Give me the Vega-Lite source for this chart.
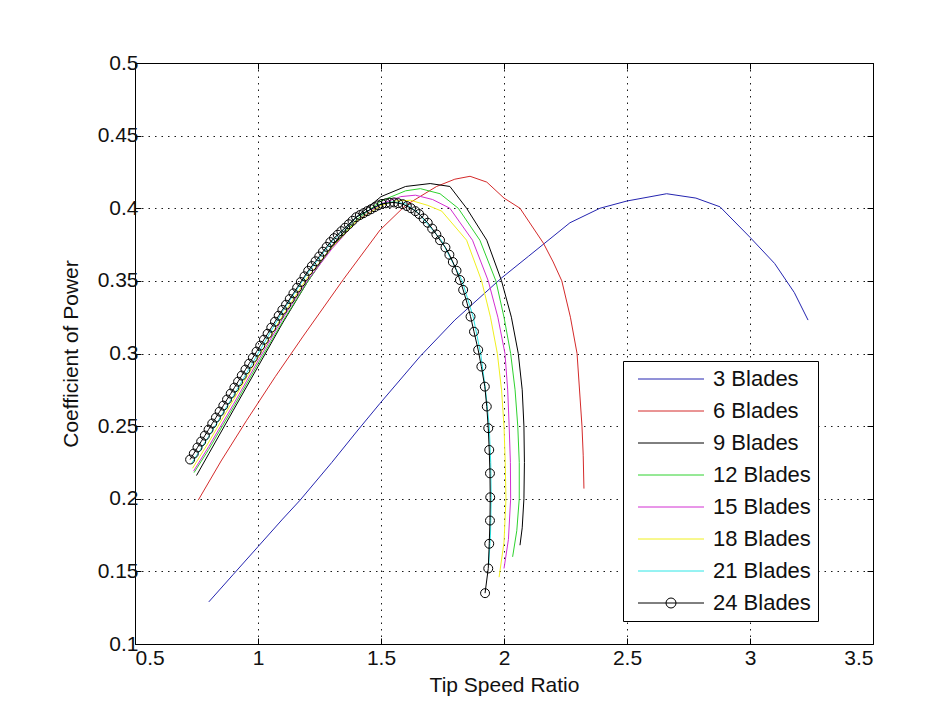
{
  "$schema": "https://vega.github.io/schema/vega-lite/v6.json",
  "width": 738,
  "height": 581,
  "autosize": {"type": "none"},
  "padding": {"left": 135, "top": 63, "right": 78, "bottom": 73},
  "background": "white",
  "config": {
    "view": {"stroke": "black", "strokeWidth": 1},
    "font": "Liberation Sans",
    "axis": {
      "labelFont": "Liberation Sans", "titleFont": "Liberation Sans",
      "labelFontSize": 21, "titleFontSize": 21, "titleFontWeight": "normal",
      "labelColor": "#111", "titleColor": "#111",
      "gridColor": "black", "gridDash": [1.5, 5], "gridWidth": 1, "gridOpacity": 0.9,
      "domain": false, "tickColor": "black", "tickSize": -6, "tickWidth": 1
    }
  },
  "resolve": {"axis": {"x": "independent", "y": "independent"}},
  "data": {"values": [
    {"s":"3 Blades","i":0,"x":0.80,"y":0.129},{"s":"3 Blades","i":1,"x":0.90,"y":0.148},{"s":"3 Blades","i":2,"x":1.00,"y":0.167},{"s":"3 Blades","i":3,"x":1.10,"y":0.186},{"s":"3 Blades","i":4,"x":1.171,"y":0.199},{"s":"3 Blades","i":5,"x":1.30,"y":0.225},{"s":"3 Blades","i":6,"x":1.40,"y":0.246},{"s":"3 Blades","i":7,"x":1.496,"y":0.2657},{"s":"3 Blades","i":8,"x":1.659,"y":0.298},{"s":"3 Blades","i":9,"x":1.80,"y":0.323},{"s":"3 Blades","i":10,"x":1.99,"y":0.352},{"s":"3 Blades","i":11,"x":2.10,"y":0.367},{"s":"3 Blades","i":12,"x":2.268,"y":0.390},{"s":"3 Blades","i":13,"x":2.39,"y":0.400},{"s":"3 Blades","i":14,"x":2.50,"y":0.405},{"s":"3 Blades","i":15,"x":2.661,"y":0.410},{"s":"3 Blades","i":16,"x":2.78,"y":0.407},{"s":"3 Blades","i":17,"x":2.878,"y":0.401},{"s":"3 Blades","i":18,"x":3.0,"y":0.38},{"s":"3 Blades","i":19,"x":3.1,"y":0.362},{"s":"3 Blades","i":20,"x":3.18,"y":0.342},{"s":"3 Blades","i":21,"x":3.236,"y":0.323},
    {"s":"6 Blades","i":0,"x":0.757,"y":0.199},{"s":"6 Blades","i":1,"x":0.85,"y":0.226},{"s":"6 Blades","i":2,"x":0.954,"y":0.254},{"s":"6 Blades","i":3,"x":1.07,"y":0.284},{"s":"6 Blades","i":4,"x":1.184,"y":0.312},{"s":"6 Blades","i":5,"x":1.347,"y":0.351},{"s":"6 Blades","i":6,"x":1.496,"y":0.385},{"s":"6 Blades","i":7,"x":1.6,"y":0.402},{"s":"6 Blades","i":8,"x":1.726,"y":0.415},{"s":"6 Blades","i":9,"x":1.80,"y":0.420},{"s":"6 Blades","i":10,"x":1.862,"y":0.422},{"s":"6 Blades","i":11,"x":1.93,"y":0.418},{"s":"6 Blades","i":12,"x":2.0,"y":0.407},{"s":"6 Blades","i":13,"x":2.065,"y":0.40},{"s":"6 Blades","i":14,"x":2.16,"y":0.376},{"s":"6 Blades","i":15,"x":2.2,"y":0.363},{"s":"6 Blades","i":16,"x":2.235,"y":0.35},{"s":"6 Blades","i":17,"x":2.27,"y":0.325},{"s":"6 Blades","i":18,"x":2.297,"y":0.30},{"s":"6 Blades","i":19,"x":2.317,"y":0.25},{"s":"6 Blades","i":20,"x":2.322,"y":0.23},{"s":"6 Blades","i":21,"x":2.325,"y":0.207},
    {"s":"9 Blades","i":0,"x":0.75,"y":0.216},{"s":"9 Blades","i":1,"x":0.8,"y":0.231},{"s":"9 Blades","i":2,"x":0.9,"y":0.261},{"s":"9 Blades","i":3,"x":1.0,"y":0.291},{"s":"9 Blades","i":4,"x":1.1,"y":0.321},{"s":"9 Blades","i":5,"x":1.2,"y":0.349},{"s":"9 Blades","i":6,"x":1.3,"y":0.374},{"s":"9 Blades","i":7,"x":1.4,"y":0.394},{"s":"9 Blades","i":8,"x":1.5,"y":0.408},{"s":"9 Blades","i":9,"x":1.6,"y":0.415},{"s":"9 Blades","i":10,"x":1.7,"y":0.417},{"s":"9 Blades","i":11,"x":1.78,"y":0.415},{"s":"9 Blades","i":12,"x":1.848,"y":0.40},{"s":"9 Blades","i":13,"x":1.93,"y":0.378},{"s":"9 Blades","i":14,"x":1.99,"y":0.35},{"s":"9 Blades","i":15,"x":2.03,"y":0.325},{"s":"9 Blades","i":16,"x":2.058,"y":0.30},{"s":"9 Blades","i":17,"x":2.074,"y":0.275},{"s":"9 Blades","i":18,"x":2.081,"y":0.25},{"s":"9 Blades","i":19,"x":2.083,"y":0.225},{"s":"9 Blades","i":20,"x":2.081,"y":0.20},{"s":"9 Blades","i":21,"x":2.074,"y":0.18},{"s":"9 Blades","i":22,"x":2.065,"y":0.168},
    {"s":"12 Blades","i":0,"x":0.74,"y":0.218},{"s":"12 Blades","i":1,"x":0.8,"y":0.234},{"s":"12 Blades","i":2,"x":0.9,"y":0.263},{"s":"12 Blades","i":3,"x":1.0,"y":0.293},{"s":"12 Blades","i":4,"x":1.1,"y":0.322},{"s":"12 Blades","i":5,"x":1.2,"y":0.349},{"s":"12 Blades","i":6,"x":1.3,"y":0.373},{"s":"12 Blades","i":7,"x":1.4,"y":0.392},{"s":"12 Blades","i":8,"x":1.5,"y":0.405},{"s":"12 Blades","i":9,"x":1.6,"y":0.412},{"s":"12 Blades","i":10,"x":1.66,"y":0.4135},{"s":"12 Blades","i":11,"x":1.74,"y":0.41},{"s":"12 Blades","i":12,"x":1.814,"y":0.40},{"s":"12 Blades","i":13,"x":1.902,"y":0.378},{"s":"12 Blades","i":14,"x":1.967,"y":0.35},{"s":"12 Blades","i":15,"x":2.0,"y":0.325},{"s":"12 Blades","i":16,"x":2.027,"y":0.30},{"s":"12 Blades","i":17,"x":2.045,"y":0.275},{"s":"12 Blades","i":18,"x":2.056,"y":0.25},{"s":"12 Blades","i":19,"x":2.062,"y":0.225},{"s":"12 Blades","i":20,"x":2.062,"y":0.20},{"s":"12 Blades","i":21,"x":2.052,"y":0.178},{"s":"12 Blades","i":22,"x":2.035,"y":0.16},
    {"s":"15 Blades","i":0,"x":0.738,"y":0.219},{"s":"15 Blades","i":1,"x":0.8,"y":0.236},{"s":"15 Blades","i":2,"x":0.9,"y":0.265},{"s":"15 Blades","i":3,"x":1.0,"y":0.295},{"s":"15 Blades","i":4,"x":1.1,"y":0.324},{"s":"15 Blades","i":5,"x":1.2,"y":0.35},{"s":"15 Blades","i":6,"x":1.3,"y":0.372},{"s":"15 Blades","i":7,"x":1.4,"y":0.391},{"s":"15 Blades","i":8,"x":1.5,"y":0.403},{"s":"15 Blades","i":9,"x":1.58,"y":0.408},{"s":"15 Blades","i":10,"x":1.64,"y":0.409},{"s":"15 Blades","i":11,"x":1.71,"y":0.406},{"s":"15 Blades","i":12,"x":1.78,"y":0.40},{"s":"15 Blades","i":13,"x":1.872,"y":0.378},{"s":"15 Blades","i":14,"x":1.936,"y":0.35},{"s":"15 Blades","i":15,"x":1.975,"y":0.325},{"s":"15 Blades","i":16,"x":2.004,"y":0.30},{"s":"15 Blades","i":17,"x":2.015,"y":0.275},{"s":"15 Blades","i":18,"x":2.021,"y":0.25},{"s":"15 Blades","i":19,"x":2.026,"y":0.225},{"s":"15 Blades","i":20,"x":2.027,"y":0.20},{"s":"15 Blades","i":21,"x":2.018,"y":0.172},{"s":"15 Blades","i":22,"x":2.0,"y":0.152},
    {"s":"18 Blades","i":0,"x":0.734,"y":0.221},{"s":"18 Blades","i":1,"x":0.8,"y":0.239},{"s":"18 Blades","i":2,"x":0.9,"y":0.268},{"s":"18 Blades","i":3,"x":1.0,"y":0.297},{"s":"18 Blades","i":4,"x":1.1,"y":0.326},{"s":"18 Blades","i":5,"x":1.2,"y":0.352},{"s":"18 Blades","i":6,"x":1.3,"y":0.373},{"s":"18 Blades","i":7,"x":1.4,"y":0.391},{"s":"18 Blades","i":8,"x":1.5,"y":0.402},{"s":"18 Blades","i":9,"x":1.56,"y":0.405},{"s":"18 Blades","i":10,"x":1.62,"y":0.4055},{"s":"18 Blades","i":11,"x":1.69,"y":0.402},{"s":"18 Blades","i":12,"x":1.747,"y":0.398},{"s":"18 Blades","i":13,"x":1.848,"y":0.378},{"s":"18 Blades","i":14,"x":1.909,"y":0.35},{"s":"18 Blades","i":15,"x":1.945,"y":0.325},{"s":"18 Blades","i":16,"x":1.973,"y":0.30},{"s":"18 Blades","i":17,"x":1.99,"y":0.275},{"s":"18 Blades","i":18,"x":2.0,"y":0.25},{"s":"18 Blades","i":19,"x":2.005,"y":0.225},{"s":"18 Blades","i":20,"x":2.008,"y":0.20},{"s":"18 Blades","i":21,"x":2.0,"y":0.17},{"s":"18 Blades","i":22,"x":1.98,"y":0.146},
    {"s":"21 Blades","i":0,"x":0.729,"y":0.224},{"s":"21 Blades","i":1,"x":0.8,"y":0.243},{"s":"21 Blades","i":2,"x":0.9,"y":0.271},{"s":"21 Blades","i":3,"x":1.0,"y":0.30},{"s":"21 Blades","i":4,"x":1.1,"y":0.329},{"s":"21 Blades","i":5,"x":1.2,"y":0.355},{"s":"21 Blades","i":6,"x":1.3,"y":0.377},{"s":"21 Blades","i":7,"x":1.4,"y":0.394},{"s":"21 Blades","i":8,"x":1.5,"y":0.403},{"s":"21 Blades","i":9,"x":1.55,"y":0.4045},{"s":"21 Blades","i":10,"x":1.6,"y":0.403},{"s":"21 Blades","i":11,"x":1.65,"y":0.397},{"s":"21 Blades","i":12,"x":1.745,"y":0.378},{"s":"21 Blades","i":13,"x":1.83,"y":0.35},{"s":"21 Blades","i":14,"x":1.875,"y":0.325},{"s":"21 Blades","i":15,"x":1.905,"y":0.30},{"s":"21 Blades","i":16,"x":1.925,"y":0.275},{"s":"21 Blades","i":17,"x":1.94,"y":0.25},{"s":"21 Blades","i":18,"x":1.946,"y":0.225},{"s":"21 Blades","i":19,"x":1.948,"y":0.20},{"s":"21 Blades","i":20,"x":1.945,"y":0.175},{"s":"21 Blades","i":21,"x":1.938,"y":0.155},
    {"s":"24 Blades","i":0,"x":0.724,"y":0.2270},{"s":"24 Blades","i":1,"x":0.739,"y":0.2311},{"s":"24 Blades","i":2,"x":0.754,"y":0.2353},{"s":"24 Blades","i":3,"x":0.769,"y":0.2394},{"s":"24 Blades","i":4,"x":0.784,"y":0.2435},{"s":"24 Blades","i":5,"x":0.799,"y":0.2476},{"s":"24 Blades","i":6,"x":0.814,"y":0.2518},{"s":"24 Blades","i":7,"x":0.829,"y":0.2559},{"s":"24 Blades","i":8,"x":0.844,"y":0.2600},{"s":"24 Blades","i":9,"x":0.859,"y":0.2641},{"s":"24 Blades","i":10,"x":0.874,"y":0.2683},{"s":"24 Blades","i":11,"x":0.889,"y":0.2724},{"s":"24 Blades","i":12,"x":0.904,"y":0.2765},{"s":"24 Blades","i":13,"x":0.919,"y":0.2806},{"s":"24 Blades","i":14,"x":0.934,"y":0.2848},{"s":"24 Blades","i":15,"x":0.949,"y":0.2889},{"s":"24 Blades","i":16,"x":0.964,"y":0.2930},{"s":"24 Blades","i":17,"x":0.979,"y":0.2971},{"s":"24 Blades","i":18,"x":0.994,"y":0.3013},{"s":"24 Blades","i":19,"x":1.009,"y":0.3054},{"s":"24 Blades","i":20,"x":1.024,"y":0.3095},{"s":"24 Blades","i":21,"x":1.039,"y":0.3136},{"s":"24 Blades","i":22,"x":1.054,"y":0.3178},{"s":"24 Blades","i":23,"x":1.069,"y":0.3219},{"s":"24 Blades","i":24,"x":1.084,"y":0.3260},{"s":"24 Blades","i":25,"x":1.099,"y":0.3300},{"s":"24 Blades","i":26,"x":1.114,"y":0.3336},{"s":"24 Blades","i":27,"x":1.129,"y":0.3375},{"s":"24 Blades","i":28,"x":1.144,"y":0.3414},{"s":"24 Blades","i":29,"x":1.159,"y":0.3453},{"s":"24 Blades","i":30,"x":1.174,"y":0.3492},{"s":"24 Blades","i":31,"x":1.189,"y":0.3531},{"s":"24 Blades","i":32,"x":1.204,"y":0.3569},{"s":"24 Blades","i":33,"x":1.219,"y":0.3602},{"s":"24 Blades","i":34,"x":1.234,"y":0.3635},{"s":"24 Blades","i":35,"x":1.249,"y":0.3668},{"s":"24 Blades","i":36,"x":1.264,"y":0.3701},{"s":"24 Blades","i":37,"x":1.279,"y":0.3734},{"s":"24 Blades","i":38,"x":1.294,"y":0.3767},{"s":"24 Blades","i":39,"x":1.309,"y":0.3794},{"s":"24 Blades","i":40,"x":1.324,"y":0.3818},{"s":"24 Blades","i":41,"x":1.339,"y":0.3842},{"s":"24 Blades","i":42,"x":1.354,"y":0.3866},{"s":"24 Blades","i":43,"x":1.369,"y":0.3890},{"s":"24 Blades","i":44,"x":1.384,"y":0.3914},{"s":"24 Blades","i":45,"x":1.399,"y":0.3938},{"s":"24 Blades","i":46,"x":1.414,"y":0.3953},{"s":"24 Blades","i":47,"x":1.429,"y":0.3966},{"s":"24 Blades","i":48,"x":1.444,"y":0.3980},{"s":"24 Blades","i":49,"x":1.459,"y":0.3993},{"s":"24 Blades","i":50,"x":1.474,"y":0.4007},{"s":"24 Blades","i":51,"x":1.489,"y":0.4020},{"s":"24 Blades","i":52,"x":1.504,"y":0.4030},{"s":"24 Blades","i":53,"x":1.52,"y":0.4034},{"s":"24 Blades","i":54,"x":1.536,"y":0.4038},{"s":"24 Blades","i":55,"x":1.553,"y":0.404},{"s":"24 Blades","i":56,"x":1.57,"y":0.4035},{"s":"24 Blades","i":57,"x":1.588,"y":0.4028},{"s":"24 Blades","i":58,"x":1.605,"y":0.4015},{"s":"24 Blades","i":59,"x":1.622,"y":0.400},{"s":"24 Blades","i":60,"x":1.64,"y":0.398},{"s":"24 Blades","i":61,"x":1.655,"y":0.396},{"s":"24 Blades","i":62,"x":1.673,"y":0.393},{"s":"24 Blades","i":63,"x":1.69,"y":0.390},{"s":"24 Blades","i":64,"x":1.708,"y":0.386},{"s":"24 Blades","i":65,"x":1.725,"y":0.382},{"s":"24 Blades","i":66,"x":1.74,"y":0.378},{"s":"24 Blades","i":67,"x":1.762,"y":0.373},{"s":"24 Blades","i":68,"x":1.778,"y":0.368},{"s":"24 Blades","i":69,"x":1.792,"y":0.363},{"s":"24 Blades","i":70,"x":1.807,"y":0.357},{"s":"24 Blades","i":71,"x":1.821,"y":0.3506},{"s":"24 Blades","i":72,"x":1.834,"y":0.3438},{"s":"24 Blades","i":73,"x":1.85,"y":0.3346},{"s":"24 Blades","i":74,"x":1.864,"y":0.3254},{"s":"24 Blades","i":75,"x":1.878,"y":0.315},{"s":"24 Blades","i":76,"x":1.895,"y":0.3025},{"s":"24 Blades","i":77,"x":1.908,"y":0.291},{"s":"24 Blades","i":78,"x":1.922,"y":0.2772},{"s":"24 Blades","i":79,"x":1.93,"y":0.2635},{"s":"24 Blades","i":80,"x":1.936,"y":0.2486},{"s":"24 Blades","i":81,"x":1.94,"y":0.2336},{"s":"24 Blades","i":82,"x":1.943,"y":0.2175},{"s":"24 Blades","i":83,"x":1.944,"y":0.201},{"s":"24 Blades","i":84,"x":1.943,"y":0.185},{"s":"24 Blades","i":85,"x":1.94,"y":0.169},{"s":"24 Blades","i":86,"x":1.936,"y":0.152},{"s":"24 Blades","i":87,"x":1.923,"y":0.135}
  ]},
  "layer": [
    {
      "mark": {"type": "line", "strokeWidth": 1, "clip": true},
      "encoding": {
        "x": {"field": "x", "type": "quantitative", "scale": {"domain": [0.5, 3.5], "nice": false, "zero": false},
              "axis": {"values": [0.5, 1, 1.5, 2, 2.5, 3, 3.5], "format": "~g", "title": "Tip Speed Ratio", "labelPadding": 9, "titlePadding": 6, "grid": true}},
        "y": {"field": "y", "type": "quantitative", "scale": {"domain": [0.1, 0.5], "nice": false, "zero": false},
              "axis": {"values": [0.1, 0.15, 0.2, 0.25, 0.3, 0.35, 0.4, 0.45, 0.5], "format": ".2~f", "title": "Coefficient of Power", "labelPadding": 3, "titlePadding": 16, "grid": true}},
        "order": {"field": "i", "type": "quantitative"},
        "color": {"field": "s", "type": "nominal",
          "scale": {"domain": ["3 Blades","6 Blades","9 Blades","12 Blades","15 Blades","18 Blades","21 Blades","24 Blades"],
                    "range": ["#2424b0","#d42a2a","#000000","#2ed22e","#d22ed2","#f0f01e","#2ee6e6","#000000"]},
          "legend": {"title": null, "orient": "none", "legendX": 488, "legendY": 298,
                     "strokeColor": "black", "fillColor": "white", "padding": 7,
                     "labelFont": "Liberation Sans", "labelFontSize": 22, "labelColor": "#111",
                     "symbolSize": 400, "symbolStrokeWidth": 1, "labelOffset": 61, "rowPadding": 10,
                     "encode": {"symbols": {"update": {
                        "shape": {"signal": "datum.value === '24 Blades' ? 'M-0.3,0H6.3M2.5,0A0.5,0.5,0,1,0,3.5,0A0.5,0.5,0,1,0,2.5,0' : 'M-0.3,0H6.3'"},
                        "fill": {"value": "transparent"}}}}}}
      }
    },
    {
      "transform": [{"filter": "datum.s == '24 Blades'"}],
      "mark": {"type": "point", "shape": "circle", "filled": false, "size": 80, "strokeWidth": 1, "opacity": 1, "color": "black"},
      "encoding": {
        "x": {"field": "x", "type": "quantitative",
              "axis": {"orient": "top", "values": [0.5, 1, 1.5, 2, 2.5, 3, 3.5], "labels": false, "title": null, "grid": false}},
        "y": {"field": "y", "type": "quantitative",
              "axis": {"orient": "right", "values": [0.1, 0.15, 0.2, 0.25, 0.3, 0.35, 0.4, 0.45, 0.5], "labels": false, "title": null, "grid": false}}
      }
    }
  ]
}
